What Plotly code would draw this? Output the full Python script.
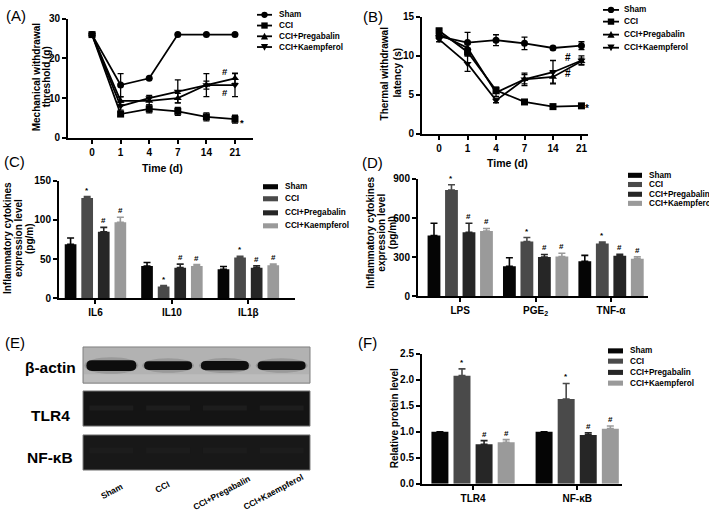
import plotly.graph_objects as go

W, H = 709, 522
FONT = "Liberation Sans"

# ---------------- data ----------------
groups = ["Sham", "CCI", "CCI+Pregabalin", "CCI+Kaempferol"]
days = ["0", "1", "4", "7", "14", "21"]

# (A) Mechanical withdrawal threshold (g)
A_sham = [26.0, 13.3, 15.0, 26.0, 26.0, 26.0]
A_sham_err = [0.0, 2.9, 0.0, 0.0, 0.0, 0.0]
A_cci = [26.0, 6.0, 7.3, 6.7, 5.3, 4.7]
A_cci_err = [0.0, 0.5, 1.0, 1.0, 1.0, 1.0]
A_preg = [26.0, 9.3, 9.3, 10.0, 13.3, 15.0]
A_preg_err = [0.0, 1.0, 1.0, 1.2, 1.0, 1.3]
A_kaem = [26.0, 8.0, 10.0, 11.7, 13.3, 13.3]
A_kaem_err = [0.0, 1.0, 0.7, 2.9, 2.9, 2.9]
A_sig = [("#", 4.65, 16.6), ("#", 4.65, 11.4), ("*", 5.25, 4.0)]

# (B) Thermal withdrawal latency (s)
B_sham = [12.5, 11.7, 12.0, 11.6, 11.0, 11.3]
B_sham_err = [0.3, 1.3, 0.7, 0.8, 0.2, 0.5]
B_cci = [13.2, 10.5, 5.6, 4.1, 3.5, 3.6]
B_cci_err = [0.3, 0.5, 0.4, 0.2, 0.3, 0.2]
B_preg = [12.8, 11.0, 5.3, 7.0, 7.3, 9.3]
B_preg_err = [0.4, 0.5, 0.5, 0.6, 0.8, 0.4]
B_kaem = [12.1, 9.0, 4.3, 7.0, 7.9, 9.4]
B_kaem_err = [0.3, 1.0, 0.3, 0.8, 1.5, 0.6]
B_sig = [("#", 4.53, 9.8), ("#", 4.53, 7.8), ("*", 5.2, 3.3)]

# (C) cytokines (pg/m)
C_cats = ["IL6", "IL10", "IL1β"]
C_sham = [69, 41, 37]
C_sham_err = [8, 4.5, 3.5]
C_cci = [128, 15, 52]
C_cci_err = [2, 1, 1.5]
C_preg = [85, 39, 39]
C_preg_err = [5.5, 4.5, 2.5]
C_kaem = [97, 41, 42]
C_kaem_err = [6.5, 2, 1.5]

# (D) cytokines (pg/ml)
D_cats = ["LPS", "PGE<sub>2</sub>", "TNF-α"]
D_sham = [465, 230, 268]
D_sham_err = [95, 65, 45]
D_cci = [815, 420, 405]
D_cci_err = [40, 30, 10]
D_preg = [490, 300, 310]
D_preg_err = [70, 20, 12]
D_kaem = [500, 305, 288]
D_kaem_err = [20, 25, 15]

# (F) relative protein level
F_cats = ["TLR4", "NF-κB"]
F_sham = [1.0, 1.0]
F_sham_err = [0.0, 0.0]
F_cci = [2.08, 1.63]
F_cci_err = [0.13, 0.30]
F_preg = [0.76, 0.94]
F_preg_err = [0.07, 0.04]
F_kaem = [0.80, 1.06]
F_kaem_err = [0.05, 0.05]

bar_sig = ["", "*", "#", "#"]

# (E) western blot
blot_rows = ["β-actin", "TLR4", "NF-κB"]
actin_band_height = [11, 9, 9.5, 9]   # relative band thickness per lane (px)

# ---------------- style ----------------
bar_colors = ["#050505", "#4a4a4a", "#262626", "#9a9a9a"]
symbols = ["circle", "square", "triangle-up", "triangle-down"]


def px(x):
    return x / W


def py(y):
    return 1 - y / H


fig = go.Figure()

# ---------------- line panels ----------------
def add_lines(series, xa, ya):
    for i, (vals, errs) in enumerate(series):
        fig.add_trace(go.Scatter(
            x=days, y=vals, mode="lines+markers", name=groups[i],
            line=dict(color="black", width=1.8),
            marker=dict(symbol=symbols[i], size=7, color="black"),
            error_y=dict(type="data", array=errs, color="black", thickness=1.3, width=3),
            xaxis=xa, yaxis=ya, showlegend=False, cliponaxis=False, hoverinfo="skip"))


add_lines([(A_sham, A_sham_err), (A_cci, A_cci_err), (A_preg, A_preg_err), (A_kaem, A_kaem_err)], "x", "y")
add_lines([(B_sham, B_sham_err), (B_cci, B_cci_err), (B_preg, B_preg_err), (B_kaem, B_kaem_err)], "x2", "y2")

annotations = []
for txt, xv, yv in A_sig:
    annotations.append(dict(text=txt, x=xv, y=yv, xref="x", yref="y", showarrow=False,
                            font=dict(family=FONT, size=9.5, color="#000000", weight="bold")))
for txt, xv, yv in B_sig:
    annotations.append(dict(text=txt, x=xv, y=yv, xref="x2", yref="y2", showarrow=False,
                            font=dict(family=FONT, size=10, color="#000000", weight="bold")))

# ---------------- bar panels ----------------
def add_bars(cats, series, slot, width, xa, ya):
    for i, (vals, errs) in enumerate(series):
        center = (i - 1.5) * slot
        fig.add_trace(go.Bar(
            x=cats, y=vals, name=groups[i], width=width, offset=center - width / 2,
            marker=dict(color=bar_colors[i], line=dict(width=0)),
            error_y=dict(type="data", symmetric=False, array=errs, arrayminus=[0] * len(vals),
                         color=bar_colors[i], thickness=1.6, width=3.5),
            xaxis=xa, yaxis=ya, showlegend=False, hoverinfo="skip"))
        if bar_sig[i]:
            for gi, (v, e) in enumerate(zip(vals, errs)):
                annotations.append(dict(text=bar_sig[i], x=gi + center, y=v + e,
                                        xref=xa, yref=ya, yanchor="bottom", showarrow=False, yshift=0,
                                        font=dict(family=FONT, size=8, color="#000000", weight="bold")))


add_bars(C_cats, [(C_sham, C_sham_err), (C_cci, C_cci_err), (C_preg, C_preg_err), (C_kaem, C_kaem_err)],
         0.217, 0.153, "x3", "y3")
add_bars(D_cats, [(D_sham, D_sham_err), (D_cci, D_cci_err), (D_preg, D_preg_err), (D_kaem, D_kaem_err)],
         0.232, 0.17, "x4", "y4")
add_bars(F_cats, [(F_sham, F_sham_err), (F_cci, F_cci_err), (F_preg, F_preg_err), (F_kaem, F_kaem_err)],
         0.212, 0.163, "x5", "y5")

# ---------------- axes ----------------
tickfont = dict(family=FONT, size=10, color="black", weight="bold")


def axis(domain, **kw):
    d = dict(domain=domain, showline=True, linecolor="black", linewidth=2, ticks="outside",
             ticklen=4, tickwidth=2, tickcolor="black", showgrid=False, zeroline=False,
             tickfont=tickfont, fixedrange=True)
    d.update(kw)
    return d


layout = dict(
    width=W, height=H, margin=dict(l=0, r=0, t=0, b=0),
    paper_bgcolor="white", plot_bgcolor="white", barmode="overlay", showlegend=False,
    hovermode=False,
    xaxis=axis([px(68), px(253)], anchor="y", type="category", range=[-0.84, 5.63]),
    yaxis=axis([py(135), py(13)], anchor="x", range=[0, 30], tickvals=[0, 10, 20, 30]),
    xaxis2=axis([px(422), px(588)], anchor="y2", type="category", range=[-0.6, 5.23]),
    yaxis2=axis([py(131), py(11)], anchor="x2", range=[0, 15], tickvals=[0, 5, 10, 15]),
    xaxis3=axis([px(59), px(295)], anchor="y3", type="category", range=[-0.477, 2.61]),
    yaxis3=axis([py(299), py(179)], anchor="x3", range=[0, 150], tickvals=[0, 50, 100, 150]),
    xaxis4=axis([px(418), px(648)], anchor="y4", type="category", range=[-0.56, 2.49]),
    yaxis4=axis([py(297), py(177)], anchor="x4", range=[0, 900], tickvals=[0, 300, 600, 900]),
    xaxis5=axis([px(422), px(622)], anchor="y5", type="category", range=[-0.49, 1.43]),
    yaxis5=axis([py(489), py(356)], anchor="x5", range=[0, 2.5], tickvals=[0, 0.5, 1.0, 1.5, 2.0, 2.5],
                tickformat=".1f"),
)

# ---------------- text helpers ----------------
def text(t, x, y, size=10, bold=True, angle=0, xanchor="center", yanchor="middle", color="black"):
    annotations.append(dict(text=t, x=px(x), y=py(y), xref="paper", yref="paper", showarrow=False,
                            textangle=angle, xanchor=xanchor, yanchor=yanchor,
                            font=dict(family=FONT, size=size, color=color,
                                      weight="bold" if bold else "normal")))


# panel labels
for lab, x, y in [("(A)", 16, 10), ("(B)", 373, 11), ("(C)", 15, 159), ("(D)", 373, 160),
                  ("(E)", 15, 344), ("(F)", 367, 344)]:
    text(lab, x, y, size=15, bold=False)

# axis titles
text("Mechanical withdrawal", 36, 73, angle=-90)
text("threshold (g)", 46, 73, angle=-90)
text("Time (d)", 162, 166, size=10.5)
text("Thermal withdrawal", 384, 69, angle=-90)
text("latency (s)", 397, 69, angle=-90)
text("Time (d)", 507, 161, size=10.5)
for xx, t in zip([7.5, 18.5, 29.5], ["Inflammatory cytokines", "expression level", "(pg/m)"]):
    text(t, xx, 238, angle=-90)
for xx, t in zip([371, 382, 392.5], ["Inflammatory cytokines", "expression level", "(pg/ml)"]):
    text(t, xx, 232, angle=-90)
text("Relative protein level", 394, 422, angle=-90)

shapes = []


def rect(x0, y0, x1, y1, fill, line_color=None, lw=0, opacity=1.0):
    shapes.append(dict(type="rect", xref="paper", yref="paper", x0=px(x0), x1=px(x1), y0=py(y1), y1=py(y0),
                       fillcolor=fill, opacity=opacity,
                       line=dict(color=line_color or fill, width=lw)))


def path(pts, fill):
    d = "M " + " L ".join("%.5f,%.5f" % (px(a), py(b)) for a, b in pts) + " Z"
    shapes.append(dict(type="path", xref="paper", yref="paper", path=d, fillcolor=fill,
                       line=dict(color=fill, width=0)))


def marker_shape(sym, cx, cy, s=3.2):
    if sym == "circle":
        shapes.append(dict(type="circle", xref="paper", yref="paper", x0=px(cx - s), x1=px(cx + s),
                           y0=py(cy + s), y1=py(cy - s), fillcolor="black", line=dict(width=0)))
    elif sym == "square":
        rect(cx - s, cy - s, cx + s, cy + s, "black")
    elif sym == "triangle-up":
        path([(cx, cy - s - 0.5), (cx + s + 0.4, cy + s), (cx - s - 0.4, cy + s)], "black")
    else:
        path([(cx, cy + s + 0.5), (cx + s + 0.4, cy - s), (cx - s - 0.4, cy - s)], "black")


# legends for line panels
def line_legend(x0, x1, xt, ys):
    for i, yy in enumerate(ys):
        shapes.append(dict(type="line", xref="paper", yref="paper", x0=px(x0), x1=px(x1), y0=py(yy), y1=py(yy),
                           line=dict(color="black", width=1.8)))
        marker_shape(symbols[i], (x0 + x1) / 2, yy)
        text(groups[i], xt, yy, size=8.2, xanchor="left")


line_legend(257, 272, 277, [9, 20, 31, 42])
line_legend(603, 619, 622, [4, 16, 29.3, 42.7])


# legends for bar panels
def bar_legend(x0, x1, xt, ys):
    for i, yy in enumerate(ys):
        rect(x0, yy - 2.6, x1, yy + 2.6, bar_colors[i])
        text(groups[i], xt, yy, size=8.2, xanchor="left")


bar_legend(263, 278, 283, [185, 197.3, 211.7, 225])
bar_legend(628, 642, 647, [173.3, 182.7, 192.7, 202])
bar_legend(608, 623, 628, [353, 363.5, 375, 386])

# ---------------- (E) western blot ----------------
bx0, bx1 = 83, 310
rows_y = [(349, 386), (394, 430), (439, 475)]
row_fill = ["#b2b2b2", "#141414", "#181818"]
for (y0, y1), fill in zip(rows_y, row_fill):
    rect(bx0, y0, bx1, y1, fill, line_color="#808080", lw=1)
# lighter lower area of the actin strip
rect(bx0 + 1, 377, bx1 - 1, 385, "#c4c4c4", opacity=0.6)

lane_w = (bx1 - bx0) / len(groups)
for i, hgt in enumerate(actin_band_height):
    cx = bx0 + (i + 0.5) * lane_w
    half_w = 25 if i == 0 else 24
    cy = 368
    # soft halo
    shapes.append(dict(type="circle", xref="paper", yref="paper", x0=px(cx - half_w - 2), x1=px(cx + half_w + 2),
                       y0=py(cy + hgt / 2 + 3), y1=py(cy - hgt / 2 - 3), fillcolor="#6a6a6a", opacity=0.35,
                       line=dict(width=0)))
    # band (rounded rectangle)
    x0b, x1b, t, b, r = cx - half_w, cx + half_w, cy - hgt / 2, cy + hgt / 2, hgt / 2
    d = ("M %.5f,%.5f L %.5f,%.5f Q %.5f,%.5f %.5f,%.5f Q %.5f,%.5f %.5f,%.5f L %.5f,%.5f "
         "Q %.5f,%.5f %.5f,%.5f Q %.5f,%.5f %.5f,%.5f Z") % (
        px(x0b + r), py(t), px(x1b - r), py(t),
        px(x1b), py(t), px(x1b), py(cy),
        px(x1b), py(b), px(x1b - r), py(b),
        px(x0b + r), py(b),
        px(x0b), py(b), px(x0b), py(cy),
        px(x0b), py(t), px(x0b + r), py(t))
    shapes.append(dict(type="path", xref="paper", yref="paper", path=d, fillcolor="#0d0d0d",
                       line=dict(width=0)))
    # faint TLR4 / NF-kB bands
    rect(cx - 22, 409, cx + 22, 414, "#1f1f1f", opacity=0.8)
    rect(cx - 22, 452, cx + 22, 458, "#1e1e1e", opacity=0.7)

for lab, yy in zip(blot_rows, [370, 419, 462]):
    text(lab, 50, yy, size=15.5, xanchor="center")

for i, (g, (lx, ly)) in enumerate(zip(groups, [(112, 496), (162, 492), (221, 498), (273, 497)])):
    text(g, lx, ly, size=8.5, angle=-28)

layout["annotations"] = annotations
layout["shapes"] = shapes
fig.update_layout(**layout)
fig.write_html("out.html", config={"displayModeBar": False, "staticPlot": True},
               post_script="document.body.style.margin='0';")
